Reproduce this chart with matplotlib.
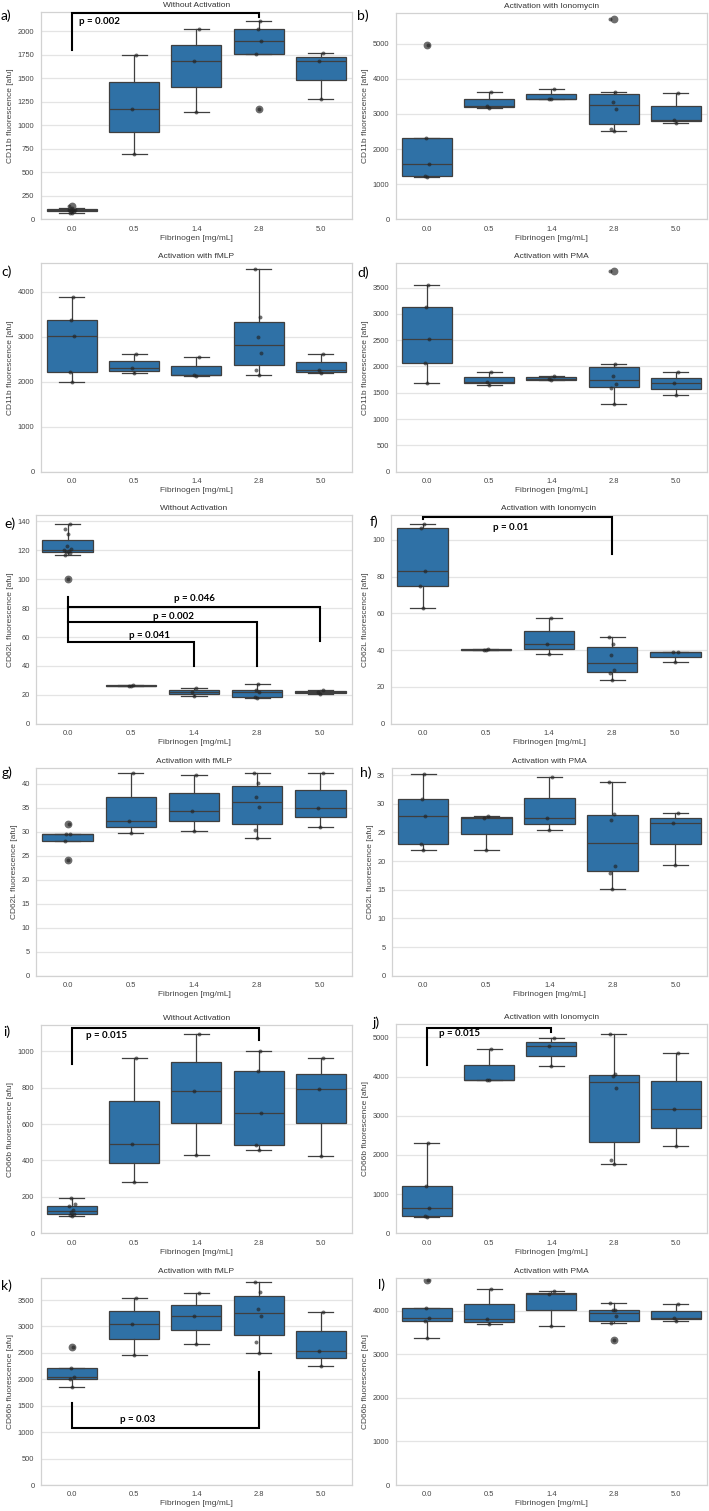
import matplotlib
matplotlib.use('Agg')
import matplotlib.pyplot as plt
from matplotlib.ticker import MultipleLocator
import numpy as np

# ---------------- data ----------------
categories = ['0.0', '0.5', '1.4', '2.8', '5.0']

cd11b_none = [[62, 72, 84, 90, 95, 98, 104, 108, 118, 145],
              [691, 1174, 1748],
              [1138, 1681, 2021],
              [1174, 1759, 1894, 2028, 2106],
              [1280, 1681, 1766]]
cd11b_iono = [[1214, 1243, 1575, 2305, 4972],
              [3160, 3225, 3625],
              [3425, 3430, 3695],
              [2505, 2571, 3140, 3340, 3624, 5693],
              [2740, 2840, 3590]]
cd11b_fmlp = [[1993, 2222, 3022, 3360, 3889],
              [2200, 2296, 2607],
              [2130, 2156, 2556],
              [2140, 2270, 2630, 3000, 3430, 4496],
              [2190, 2250, 2607]]
cd11b_pma = [[1687, 2067, 2524, 3126, 3557],
             [1650, 1710, 1889],
             [1740, 1755, 1825],
             [1294, 1585, 1668, 1813, 2042, 3823],
             [1452, 1687, 1889]]
cd62l_none = [[100, 117, 118.5, 119, 119.5, 120, 121, 123, 131, 135, 138],
              [25.8, 26.2, 26.8],
              [19.5, 21.8, 24.8],
              [17.8, 18.2, 21.9, 23.3, 27.5],
              [20.8, 22.1, 23.0]]
cd62l_iono = [[63.2, 75.0, 82.9, 106.7, 108.9],
              [40.0, 40.3, 40.6],
              [37.9, 43.2, 57.7],
              [24.0, 27.6, 29.0, 37.6, 43.4, 47.4],
              [33.6, 38.8, 39.0]]
cd62l_fmlp = [[24.0, 28.1, 29.4, 29.4, 31.6],
              [29.8, 32.2, 42.3],
              [30.1, 34.3, 41.8],
              [28.6, 30.3, 35.1, 37.3, 40.1, 42.3],
              [30.9, 35.0, 42.3]]
cd62l_pma = [[22.0, 23.0, 27.9, 30.8, 35.2],
             [21.9, 27.6, 27.9],
             [25.5, 27.6, 34.6],
             [15.2, 17.9, 19.1, 27.1, 28.3, 33.8],
             [19.3, 26.6, 28.4]]
cd66b_none = [[97, 100, 108, 118, 128, 150, 160, 192],
              [282, 489, 965],
              [430, 783, 1095],
              [458, 487, 663, 890, 1000],
              [425, 790, 965]]
cd66b_iono = [[405, 450, 635, 1210, 2300],
              [3905, 3915, 4694],
              [4280, 4770, 4990],
              [1777, 1871, 3707, 4020, 4060, 5085],
              [2219, 3160, 4592]]
cd66b_fmlp = [[1860, 2000, 2037, 2220, 2617],
              [2459, 3052, 3531],
              [2661, 3197, 3626],
              [2497, 2711, 3203, 3323, 3657, 3834],
              [2251, 2541, 3279]]
cd66b_pma = [[3365, 3770, 3824, 4061, 4704],
             [3686, 3810, 4489],
             [3648, 4380, 4450],
             [3334, 3712, 3877, 4020, 4025, 4184],
             [3770, 3840, 4145]]

titles = ['Without Activation', 'Activation with Ionomycin',
          'Activation with fMLP', 'Activation with PMA'] * 3
ylabels = ['CD11b fluorescence [afu]'] * 4 + ['CD62L fluorescence [afu]'] * 4 + \
          ['CD66b fluorescence [afu]'] * 4
panel_letters = ['a)', 'b)', 'c)', 'd)', 'e)', 'f)', 'g)', 'h)', 'i)', 'j)', 'k)', 'l)']
panel_data = [cd11b_none, cd11b_iono, cd11b_fmlp, cd11b_pma,
              cd62l_none, cd62l_iono, cd62l_fmlp, cd62l_pma,
              cd66b_none, cd66b_iono, cd66b_fmlp, cd66b_pma]
y_tops = [2210, 5880, 4630, 3960, 144.5, 113.6, 43.3, 36.2, 1144, 5332, 3922, 4757]
y_steps = [250, 1000, 1000, 500, 20, 20, 5, 5, 200, 1000, 500, 1000]

# significance brackets: (panel index, path x, path y, text x, text y, text, ha)
brackets = [
    (0, [0, 0, 3, 3], [1801, 2191, 2191, 2149], 0.12, 2105, 'p = 0.002', 'left'),
    (4, [0, 0, 4, 4], [87.4, 80.5, 80.5, 57.2], 2.01, 87.0, 'p = 0.046', 'center'),
    (4, [0, 0, 3, 3], [80.5, 70.3, 70.3, 40.0], 1.68, 74.0, 'p = 0.002', 'center'),
    (4, [0, 0, 2, 2], [70.3, 56.5, 56.5, 40.0], 1.29, 61.0, 'p = 0.041', 'center'),
    (5, [0, 0, 3, 3], [111.2, 112.7, 112.7, 92.2], 1.40, 107.0, 'p = 0.01', 'center'),
    (8, [0, 0, 3, 3], [928, 1130, 1130, 1062], 0.22, 1084, 'p = 0.015', 'left'),
    (9, [0, 0, 2, 2], [4294, 5247, 5247, 5128], 0.19, 5085, 'p = 0.015', 'left'),
    (10, [0, 0, 3, 3], [1545, 1072, 1072, 2144], 0.78, 1230, 'p = 0.03', 'left'),
]

# ---------------- layout (pixels) ----------------
W, H = 709, 1511
# left, right, top, bottom
boxes_px = [
    (40.7, 352, 11.7, 219.3), (395.7, 707, 12.7, 219.3),
    (40.7, 352, 263.3, 471.7), (395.7, 707, 263.3, 471.7),
    (36, 352, 515, 723.7), (391, 707, 515, 723.7),
    (36, 352, 767.7, 975.7), (391.7, 707, 768.3, 975.7),
    (40.7, 352, 1025, 1233.3), (395.7, 707, 1024.3, 1233.3),
    (40.7, 352, 1277.7, 1485), (395.7, 707, 1277.7, 1485),
]
letter_px = [(1, 16), (357, 16), (1, 272), (357, 273), (4, 524), (370, 522),
             (2, 773), (360, 773), (3, 1032), (373, 1023), (1, 1286), (378, 1285)]

BOX = '#2f71a6'
LINE = '#3f3f3f'
FLIER = '#6e6e6e'
SANS = ['Liberation Sans', 'DejaVu Sans']

fig = plt.figure(figsize=(W / 100, H / 100), dpi=100)

jit = np.array([0, -1, 1, -0.5, 0.5, -1.5, 1.5, -0.25, 0.25, -1.25, 1.25]) * 0.035

axes = []
for i in range(12):
    l, r, t, b = boxes_px[i]
    ax = fig.add_axes([l / W, 1 - b / H, (r - l) / W, (b - t) / H])
    axes.append(ax)
    data = panel_data[i]
    pos = np.arange(len(categories))
    ax.boxplot(data, positions=pos, widths=0.8, patch_artist=True, whis=1.5,
               capwidths=0.4,
               boxprops=dict(facecolor=BOX, edgecolor=LINE, linewidth=0.9),
               medianprops=dict(color=LINE, linewidth=0.9),
               whiskerprops=dict(color=LINE, linewidth=0.9),
               capprops=dict(color=LINE, linewidth=0.9),
               flierprops=dict(marker='o', markerfacecolor=FLIER,
                               markeredgecolor=FLIER, markersize=4.6),
               zorder=2)
    for k, vals in enumerate(data):
        xs = k + jit[:len(vals)]
        ax.scatter(xs, vals, s=8, color='#222222', alpha=0.65, linewidths=0,
                   zorder=4)
    ax.set_xlim(-0.5, 4.5)
    ax.set_ylim(0, y_tops[i])
    ax.yaxis.set_major_locator(MultipleLocator(y_steps[i]))
    ax.set_xticks(pos)
    ax.set_xticklabels(categories)
    ax.yaxis.grid(True, color='#e4e4e4', linewidth=0.9)
    ax.xaxis.grid(False)
    ax.set_axisbelow(True)
    for sp in ax.spines.values():
        sp.set_color('#d2d2d2')
        sp.set_linewidth(0.9)
    ax.tick_params(length=0, labelsize=5.4, colors='#444444', pad=4.5)
    for lab in ax.get_xticklabels() + ax.get_yticklabels():
        lab.set_family(SANS)
    ax.set_title(titles[i], fontsize=6, color='#333333', pad=3.5, family=SANS)
    ax.set_xlabel('Fibrinogen [mg/mL]', fontsize=6, color='#444444',
                  labelpad=1.5, family=SANS)
    ax.set_ylabel(ylabels[i], fontsize=6, color='#444444', labelpad=2.5,
                  family=SANS)

for (pi, bx, by, tx, ty, txt, ha) in brackets:
    ax = axes[pi]
    ax.plot(bx, by, color='black', linewidth=1.5, solid_joinstyle='miter',
            zorder=5, clip_on=False)
    ax.text(tx, ty, txt, ha=ha, va='center', fontsize=7, fontweight='bold',
            family=['Lato', 'DejaVu Sans'], color='black', zorder=6)

for i, (x, y) in enumerate(letter_px):
    fig.text(x / W, 1 - y / H, panel_letters[i], ha='left', va='center',
             fontsize=10, family=['Lato', 'DejaVu Sans'], color='black')

fig.savefig('out.png', dpi=100)
